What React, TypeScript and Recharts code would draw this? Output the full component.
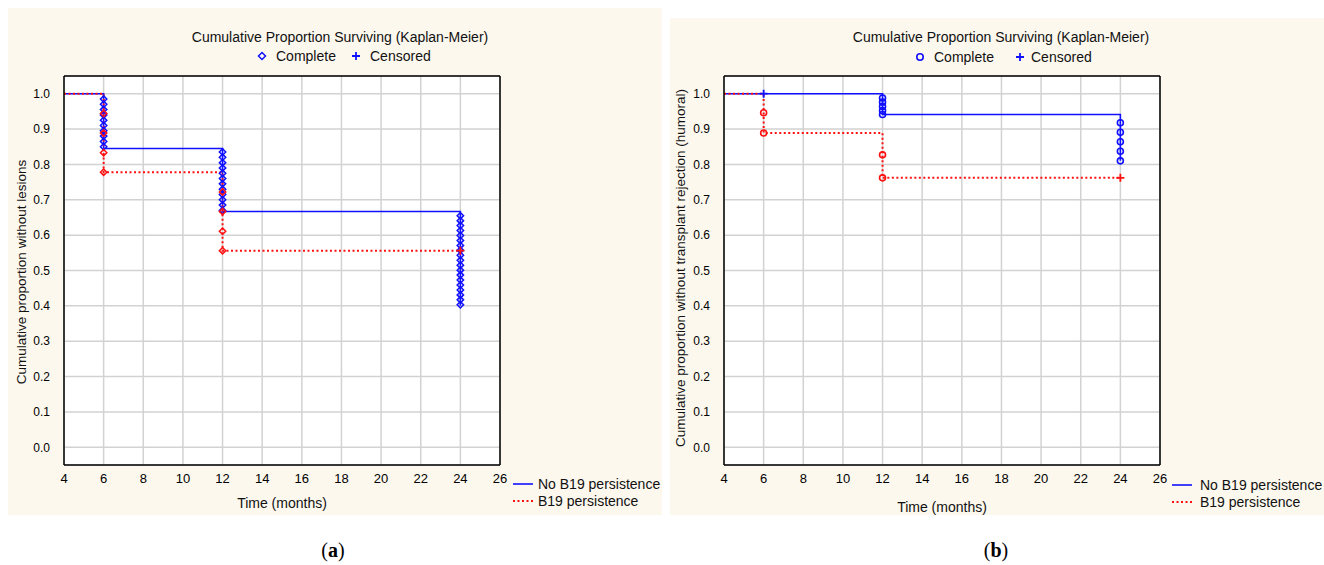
import React from 'react';
import { ComposedChart, Line, Scatter, XAxis, YAxis, CartesianGrid } from 'recharts';

const FONT = '"Liberation Sans", Arial, sans-serif';
const BLUE = '#1010ff';
const RED = '#ff1010';

const timeTicks = [4, 6, 8, 10, 12, 14, 16, 18, 20, 22, 24, 26];
const propTicks = [0, 0.1, 0.2, 0.3, 0.4, 0.5, 0.6, 0.7, 0.8, 0.9, 1.0];

// ---------- Panel (a): lesions ----------
const aNoB19Times = [4, 6, 12, 24];
const aNoB19Surv = [1.0, 0.845, 0.667, 0.4];
const aB19Times = [4, 6, 12, 24];
const aB19Surv = [1.0, 0.778, 0.556, 0.556];
const aNoB19Complete: [number, number][] = [
  [6, 0.985], [6, 0.97], [6, 0.955], [6, 0.94], [6, 0.925], [6, 0.91], [6, 0.895], [6, 0.88], [6, 0.865], [6, 0.85],
  [12, 0.835], [12, 0.82], [12, 0.805], [12, 0.79], [12, 0.775], [12, 0.76], [12, 0.745], [12, 0.73], [12, 0.715], [12, 0.7], [12, 0.685], [12, 0.67],
  [24, 0.655], [24, 0.641], [24, 0.627], [24, 0.613], [24, 0.599], [24, 0.585], [24, 0.571], [24, 0.557], [24, 0.543], [24, 0.529],
  [24, 0.515], [24, 0.501], [24, 0.487], [24, 0.473], [24, 0.459], [24, 0.445], [24, 0.431], [24, 0.417], [24, 0.403],
];
const aNoB19Censored: [number, number][] = [];
const aB19Complete: [number, number][] = [
  [6, 0.944], [6, 0.889], [6, 0.833], [6, 0.778],
  [12, 0.722], [12, 0.667], [12, 0.611], [12, 0.556],
];
const aB19Censored: [number, number][] = [[24, 0.556]];

// ---------- Panel (b): transplant rejection (humoral) ----------
const bNoB19Times = [4, 12, 24];
const bNoB19Surv = [1.0, 0.941, 0.81];
const bB19Times = [4, 6, 12, 24];
const bB19Surv = [1.0, 0.889, 0.762, 0.762];
const bNoB19Complete: [number, number][] = [
  [12, 0.988], [12, 0.976], [12, 0.964], [12, 0.952], [12, 0.941],
  [24, 0.918], [24, 0.891], [24, 0.864], [24, 0.837], [24, 0.81],
];
const bNoB19Censored: [number, number][] = [[6, 1.0]];
const bB19Complete: [number, number][] = [
  [6, 0.946], [6, 0.889],
  [12, 0.827], [12, 0.762],
];
const bB19Censored: [number, number][] = [[24, 0.762]];

const steps = (times: number[], surv: number[]) => times.map((t, i) => ({ t, s: surv[i] }));
const pts = (p: [number, number][]) => p.map(([t, s]) => ({ t, s }));

const diamond = (color: string) => (props: any) => {
  const { cx, cy } = props;
  if (cx == null || cy == null) return <g />;
  const r = 3.2;
  return <path d={`M${cx},${cy - r}L${cx + r},${cy}L${cx},${cy + r}L${cx - r},${cy}Z`} fill="none" stroke={color} strokeWidth={1.5} />;
};
const circle = (color: string) => (props: any) => {
  const { cx, cy } = props;
  if (cx == null || cy == null) return <g />;
  return <circle cx={cx} cy={cy} r={3} fill="none" stroke={color} strokeWidth={1.6} />;
};
const plus = (color: string) => (props: any) => {
  const { cx, cy } = props;
  if (cx == null || cy == null) return <g />;
  const r = 4;
  return <path d={`M${cx - r},${cy}H${cx + r}M${cx},${cy - r}V${cy + r}`} stroke={color} strokeWidth={1.8} fill="none" />;
};

type PanelProps = {
  left: number;
  width: number;
  rightMargin: number;
  noStep: { t: number; s: number }[];
  b19Step: { t: number; s: number }[];
  noComplete: { t: number; s: number }[];
  noCensored: { t: number; s: number }[];
  b19Complete: { t: number; s: number }[];
  b19Censored: { t: number; s: number }[];
  marker: (c: string) => (p: any) => React.ReactElement;
};

function KMPanel(p: PanelProps) {
  const xTickStyle = { fontSize: 13, fill: '#000', fontFamily: FONT };
  const yTickStyle = { fontSize: 12, fill: '#000', fontFamily: FONT };
  return (
    <div style={{ position: 'absolute', left: p.left, top: 0 }}>
      <ComposedChart width={p.width} height={520} margin={{ top: 75, right: p.rightMargin, bottom: 25, left: 0 }}>
        <CartesianGrid stroke="#d2d2d2" strokeWidth={1.5} fill="#ffffff" />
        <XAxis
          type="number"
          dataKey="t"
          domain={[4, 26]}
          ticks={timeTicks}
          interval={0}
          allowDataOverflow
          axisLine={{ stroke: '#000', strokeWidth: 1.5 }}
          tickLine={false}
          tickSize={4}
          tickMargin={5}
          height={30}
          tick={xTickStyle}
        />
        <XAxis
          xAxisId="top"
          orientation="top"
          type="number"
          domain={[4, 26]}
          ticks={timeTicks}
          allowDataOverflow
          axisLine={{ stroke: '#000', strokeWidth: 1.5 }}
          tick={false}
          tickLine={false}
          height={1}
        />
        <YAxis
          type="number"
          dataKey="s"
          domain={[-0.05, 1.05]}
          ticks={propTicks}
          interval={0}
          allowDataOverflow
          width={64}
          axisLine={{ stroke: '#000', strokeWidth: 1.5 }}
          tickLine={false}
          tickSize={6}
          tickMargin={8}
          tickFormatter={(v: number) => v.toFixed(1)}
          tick={yTickStyle}
        />
        <YAxis
          yAxisId="right"
          orientation="right"
          type="number"
          domain={[-0.05, 1.05]}
          ticks={propTicks}
          allowDataOverflow
          width={1}
          axisLine={{ stroke: '#000', strokeWidth: 1.5 }}
          tick={false}
          tickLine={false}
        />
        <Line data={p.noStep} dataKey="s" type="stepAfter" stroke={BLUE} strokeWidth={1.6} dot={false} isAnimationActive={false} />
        <Scatter data={p.noComplete} dataKey="s" shape={p.marker(BLUE)} isAnimationActive={false} />
        <Scatter data={p.noCensored} dataKey="s" shape={plus(BLUE)} isAnimationActive={false} />
        <Line data={p.b19Step} dataKey="s" type="stepAfter" stroke={RED} strokeWidth={2} strokeDasharray="2 2.5" dot={false} isAnimationActive={false} />
        <Scatter data={p.b19Complete} dataKey="s" shape={p.marker(RED)} isAnimationActive={false} />
        <Scatter data={p.b19Censored} dataKey="s" shape={plus(RED)} isAnimationActive={false} />
      </ComposedChart>
    </div>
  );
}

function Overlay() {
  const t = { fontFamily: FONT, fontSize: 14, fill: '#111' } as const;
  const yl = { fontFamily: FONT, fontSize: 13.5, fill: '#111' } as const;
  return (
    <svg width={1324} height={565} style={{ position: 'absolute', left: 0, top: 0, pointerEvents: 'none' }}>
      {/* Panel (a) */}
      <text {...t} x={340} y={42} textAnchor="middle">Cumulative Proportion Surviving (Kaplan-Meier)</text>
      <path d="M262,52.5L265.5,56L262,59.5L258.5,56Z" fill="none" stroke={BLUE} strokeWidth={1.5} />
      <text {...t} x={276} y={61}>Complete</text>
      <path d="M352,56H360M356,52V60" stroke={BLUE} strokeWidth={1.8} />
      <text {...t} x={370} y={61}>Censored</text>
      <text {...yl} x={0} y={0} textAnchor="middle" dominantBaseline="central" transform="translate(21,272) rotate(-90)">Cumulative proportion without lesions</text>
      <text {...t} x={282} y={508} textAnchor="middle">Time (months)</text>
      <line x1={513} y1={484} x2={533} y2={484} stroke={BLUE} strokeWidth={1.6} />
      <text {...t} x={538} y={489}>No B19 persistence</text>
      <line x1={513} y1={501} x2={533} y2={501} stroke={RED} strokeWidth={2} strokeDasharray="2 2.5" />
      <text {...t} x={538} y={506}>B19 persistence</text>

      {/* Panel (b) */}
      <text {...t} x={1001} y={42} textAnchor="middle">Cumulative Proportion Surviving (Kaplan-Meier)</text>
      <circle cx={920} cy={57} r={3.2} fill="none" stroke={BLUE} strokeWidth={1.6} />
      <text {...t} x={934} y={62}>Complete</text>
      <path d="M1016,57H1024M1020,53V61" stroke={BLUE} strokeWidth={1.8} />
      <text {...t} x={1031} y={62}>Censored</text>
      <text {...yl} x={0} y={0} textAnchor="middle" dominantBaseline="central" transform="translate(680,268) rotate(-90)">Cumulative proportion without transplant rejection (humoral)</text>
      <text {...t} x={942} y={512} textAnchor="middle">Time (months)</text>
      <line x1={1172} y1={485} x2={1192} y2={485} stroke={BLUE} strokeWidth={1.6} />
      <text {...t} x={1200} y={490}>No B19 persistence</text>
      <line x1={1172} y1={502} x2={1192} y2={502} stroke={RED} strokeWidth={2} strokeDasharray="2 2.5" />
      <text {...t} x={1200} y={507}>B19 persistence</text>

      {/* captions */}
      <text x={333} y={557} textAnchor="middle" fontFamily='"Liberation Serif", "Times New Roman", serif' fontSize={20} fill="#000">
        (<tspan fontWeight="bold">a</tspan>)
      </text>
      <text x={996} y={557} textAnchor="middle" fontFamily='"Liberation Serif", "Times New Roman", serif' fontSize={20} fill="#000">
        (<tspan fontWeight="bold">b</tspan>)
      </text>
    </svg>
  );
}

export default function App() {
  return (
    <div style={{ position: 'absolute', left: 0, top: 0, width: 1324, height: 565, background: '#ffffff', overflow: 'hidden' }}>
      <div style={{ position: 'absolute', left: 8, top: 8, width: 654, height: 507, background: '#fcf8ee' }} />
      <div style={{ position: 'absolute', left: 670, top: 18, width: 654, height: 497, background: '#fcf8ee' }} />
      <KMPanel
        left={0}
        width={660}
        rightMargin={159}
        noStep={steps(aNoB19Times, aNoB19Surv)}
        b19Step={steps(aB19Times, aB19Surv)}
        noComplete={pts(aNoB19Complete)}
        noCensored={pts(aNoB19Censored)}
        b19Complete={pts(aB19Complete)}
        b19Censored={pts(aB19Censored)}
        marker={diamond}
      />
      <KMPanel
        left={660}
        width={664}
        rightMargin={163}
        noStep={steps(bNoB19Times, bNoB19Surv)}
        b19Step={steps(bB19Times, bB19Surv)}
        noComplete={pts(bNoB19Complete)}
        noCensored={pts(bNoB19Censored)}
        b19Complete={pts(bB19Complete)}
        b19Censored={pts(bB19Censored)}
        marker={circle}
      />
      <Overlay />
    </div>
  );
}
